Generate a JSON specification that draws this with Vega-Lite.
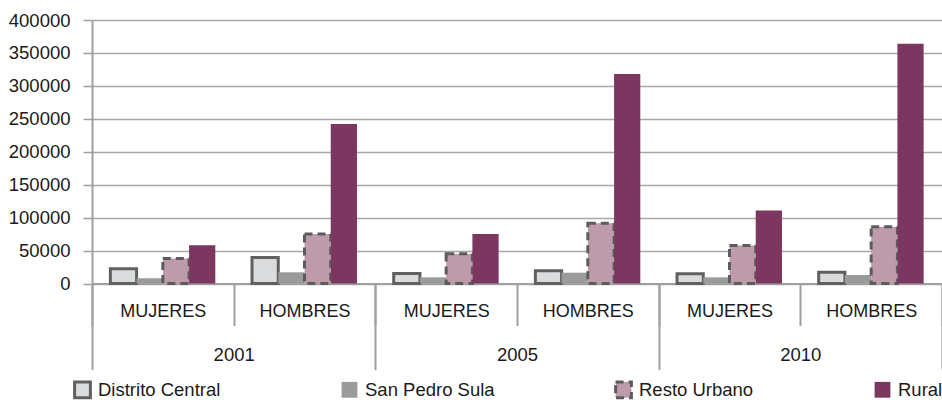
{
  "$schema": "https://vega.github.io/schema/vega-lite/v6.json",
  "width": 850,
  "height": 263.5,
  "autosize": {"type": "none"},
  "padding": {"left": 92, "top": 20, "right": 0, "bottom": 116.5},
  "config": {
    "view": {"stroke": null},
    "font": "Liberation Sans",
    "axis": {"labelFont": "Liberation Sans", "labelColor": "#1a1a1a"},
    "legend": {"labelFont": "Liberation Sans"}
  },
  "layer": [
    {
      "data": {
        "values": [
          {"grupo": "2001 MUJERES", "serie": "Distrito Central", "valor": 22500},
          {"grupo": "2001 MUJERES", "serie": "San Pedro Sula", "valor": 8000},
          {"grupo": "2001 MUJERES", "serie": "Resto Urbano", "valor": 38000},
          {"grupo": "2001 MUJERES", "serie": "Rural", "valor": 58000},
          {"grupo": "2001 HOMBRES", "serie": "Distrito Central", "valor": 39500},
          {"grupo": "2001 HOMBRES", "serie": "San Pedro Sula", "valor": 17000},
          {"grupo": "2001 HOMBRES", "serie": "Resto Urbano", "valor": 75000},
          {"grupo": "2001 HOMBRES", "serie": "Rural", "valor": 242000},
          {"grupo": "2005 MUJERES", "serie": "Distrito Central", "valor": 15000},
          {"grupo": "2005 MUJERES", "serie": "San Pedro Sula", "valor": 9400},
          {"grupo": "2005 MUJERES", "serie": "Resto Urbano", "valor": 45000},
          {"grupo": "2005 MUJERES", "serie": "Rural", "valor": 75000},
          {"grupo": "2005 HOMBRES", "serie": "Distrito Central", "valor": 19200},
          {"grupo": "2005 HOMBRES", "serie": "San Pedro Sula", "valor": 16400},
          {"grupo": "2005 HOMBRES", "serie": "Resto Urbano", "valor": 91500},
          {"grupo": "2005 HOMBRES", "serie": "Rural", "valor": 318000},
          {"grupo": "2010 MUJERES", "serie": "Distrito Central", "valor": 14700},
          {"grupo": "2010 MUJERES", "serie": "San Pedro Sula", "valor": 9400},
          {"grupo": "2010 MUJERES", "serie": "Resto Urbano", "valor": 57600},
          {"grupo": "2010 MUJERES", "serie": "Rural", "valor": 111000},
          {"grupo": "2010 HOMBRES", "serie": "Distrito Central", "valor": 17000},
          {"grupo": "2010 HOMBRES", "serie": "San Pedro Sula", "valor": 12900},
          {"grupo": "2010 HOMBRES", "serie": "Resto Urbano", "valor": 86000},
          {"grupo": "2010 HOMBRES", "serie": "Rural", "valor": 364000}
        ]
      },
      "mark": {"type": "bar", "strokeWidth": 3},
      "encoding": {
        "x": {
          "field": "grupo",
          "type": "nominal",
          "sort": null,
          "scale": {"paddingInner": 0, "paddingOuter": 0},
          "axis": {
            "title": null,
            "labelAngle": 0,
            "labelExpr": "split(datum.label, ' ')[1]",
            "labelFontSize": 18,
            "labelBaseline": "middle",
            "tickBand": "extent",
            "tickSize": 42,
            "labelPadding": -14,
            "tickColor": "#a0a0a0",
            "tickWidth": 2,
            "domainColor": "#a0a0a0",
            "domainWidth": 2
          }
        },
        "xOffset": {
          "field": "serie",
          "type": "nominal",
          "sort": ["Distrito Central", "San Pedro Sula", "Resto Urbano", "Rural"],
          "scale": {"paddingInner": 0, "paddingOuter": 0.7}
        },
        "y": {
          "field": "valor",
          "type": "quantitative",
          "scale": {"domain": [0, 400000]},
          "axis": {
            "title": null,
            "values": [0, 50000, 100000, 150000, 200000, 250000, 300000, 350000, 400000],
            "format": "d",
            "labelFontSize": 18.5,
            "labelBaseline": "middle",
            "tickSize": 9,
            "labelPadding": 13,
            "tickColor": "#a0a0a0",
            "tickWidth": 1.5,
            "domainColor": "#a0a0a0",
            "domainWidth": 2,
            "gridColor": "#a8a8a8",
            "gridWidth": 1.5
          }
        },
        "fill": {
          "field": "serie",
          "type": "nominal",
          "sort": ["Distrito Central", "San Pedro Sula", "Resto Urbano", "Rural"],
          "scale": {
            "domain": ["Distrito Central", "San Pedro Sula", "Resto Urbano", "Rural"],
            "range": ["#dadbdd", "#9b9b9b", "#be9bab", "#7b3760"]
          },
          "legend": {
            "title": null,
            "orient": "none",
            "direction": "horizontal",
            "legendX": -19,
            "legendY": 360,
            "symbolType": "square",
            "symbolSize": 250,
            "symbolStrokeWidth": 3,
            "labelFontSize": 18.5,
            "labelColor": "#1a1a1a",
            "labelOffset": 6,
            "columnPadding": 114,
            "labelLimit": 300
          }
        },
        "stroke": {
          "field": "serie",
          "type": "nominal",
          "scale": {
            "domain": ["Distrito Central", "San Pedro Sula", "Resto Urbano", "Rural"],
            "range": ["#606060", "transparent", "#5c5c5c", "transparent"]
          }
        },
        "strokeDash": {
          "field": "serie",
          "type": "nominal",
          "scale": {
            "domain": ["Distrito Central", "San Pedro Sula", "Resto Urbano", "Rural"],
            "range": [[1, 0], [1, 0], [8, 5], [1, 0]]
          }
        }
      }
    },
    {
      "data": {"values": [{"anio": "2001"}, {"anio": "2005"}, {"anio": "2010"}]},
      "mark": {"type": "text", "opacity": 0},
      "encoding": {
        "x": {
          "field": "anio",
          "type": "nominal",
          "scale": {"paddingInner": 0, "paddingOuter": 0},
          "axis": {
            "title": null,
            "orient": "bottom",
            "labelAngle": 0,
            "labelFontSize": 18.5,
            "labelBaseline": "middle",
            "tickBand": "extent",
            "tickSize": 86,
            "labelPadding": -15.5,
            "tickColor": "#a0a0a0",
            "tickWidth": 2,
            "domain": false
          }
        },
        "text": {"value": ""}
      }
    }
  ],
  "resolve": {"scale": {"x": "independent"}, "axis": {"x": "independent"}}
}
